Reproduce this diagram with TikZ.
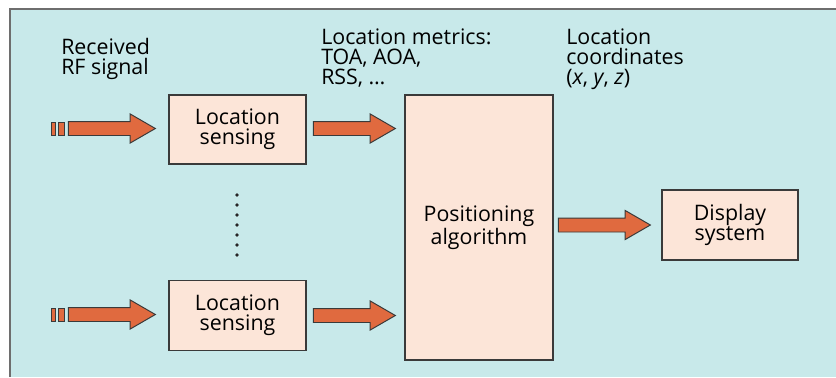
\documentclass[tikz,border=0pt]{standalone}
\usepackage{fontspec}
\setmainfont{Open Sans}
\usetikzlibrary{positioning,calc,shapes.arrows}

\definecolor{panelbg}{HTML}{C8E9EA}
\definecolor{boxfill}{HTML}{FCE5D8}
\definecolor{arrowfill}{HTML}{E06A3F}
\definecolor{edgegray}{HTML}{3A3A3A}
\definecolor{framegray}{HTML}{6E6E6E}

\begin{document}
\begin{tikzpicture}[
  x=0.025cm, y=-0.025cm,
  every node/.style = {font=\fontsize{15.2}{14.2}\selectfont, text=black},
  block/.style = {shape=rectangle, draw=edgegray, line width=0.9pt,
    fill=boxfill, align=center, inner sep=0pt},
  fatarrow/.style = {single arrow, draw=edgegray, line width=0.7pt,
    fill=arrowfill, inner xsep=0pt, inner ysep=0.1625cm,
    single arrow head extend=0.19cm, single arrow tip angle=60, anchor=tip},
  stripe/.style = {shape=rectangle, draw=edgegray, line width=0.6pt,
    fill=arrowfill, inner sep=0pt, minimum height=0.325cm},
  label/.style = {align=left, anchor=north west, inner sep=0pt}
  ]
  \useasboundingbox (0,0) rectangle (836,377);
  % panel
  \fill[panelbg] (10,9) rectangle (836,377);
  \draw[framegray, line width=1.4pt] (10,377) -- (10,9) -- (836,9);

  % blocks
  \node[block, minimum width=3.425cm, minimum height=1.725cm] (sense1) at (237.5,129.5) {Location\\sensing};
  \node[block, minimum width=3.425cm, minimum height=1.75cm] (sense2) at (237.5,315.5) {Location\\sensing};
  \node[block, minimum width=3.7cm, minimum height=6.625cm] (posalg) at (479,227.5) {Positioning\\algorithm};
  \node[block, minimum width=3.4cm, minimum height=1.75cm] (disp) at (730,225) {Display\\system};

  % labels
  \node[label] (rxlabel) at (61,38) {Received\\RF signal};
  \node[label] (metrics) at (321,29) {Location metrics:\\TOA, AOA,\\RSS, \dots};
  \node[label] (coords) at (566,29) {Location\\coordinates\\(\textit{x}, \textit{y}, \textit{z})};

  % incoming signal arrows
  \foreach \s in {1,2} {
    \node[fatarrow, minimum height=2.175cm] (in\s) at ($(sense\s.west)+(-12,-1)$) {};
    \node[stripe, minimum width=0.15cm, anchor=east] (inb\s) at ($(in\s.tail)+(-3,0)$) {};
    \node[stripe, minimum width=0.1cm, anchor=east] (inc\s) at ($(inb\s.west)+(-2,0)$) {};
  }

  % sensing -> positioning
  \node[fatarrow, minimum height=2.05cm] (m1) at ($(posalg.west |- sense1.east)+(-8,-1)$) {};
  \node[fatarrow, minimum height=2.05cm] (m2) at ($(posalg.west |- sense2.east)+(-8,0)$) {};
  % positioning -> display
  \node[fatarrow, minimum height=2.3cm] (out) at ($(disp.west)+(-10,0)$) {};

  % dots between the sensing blocks
  \foreach \k in {0,...,6}
    \fill[black!85] (237,195+10*\k) circle (0.045cm);
\end{tikzpicture}
\end{document}
